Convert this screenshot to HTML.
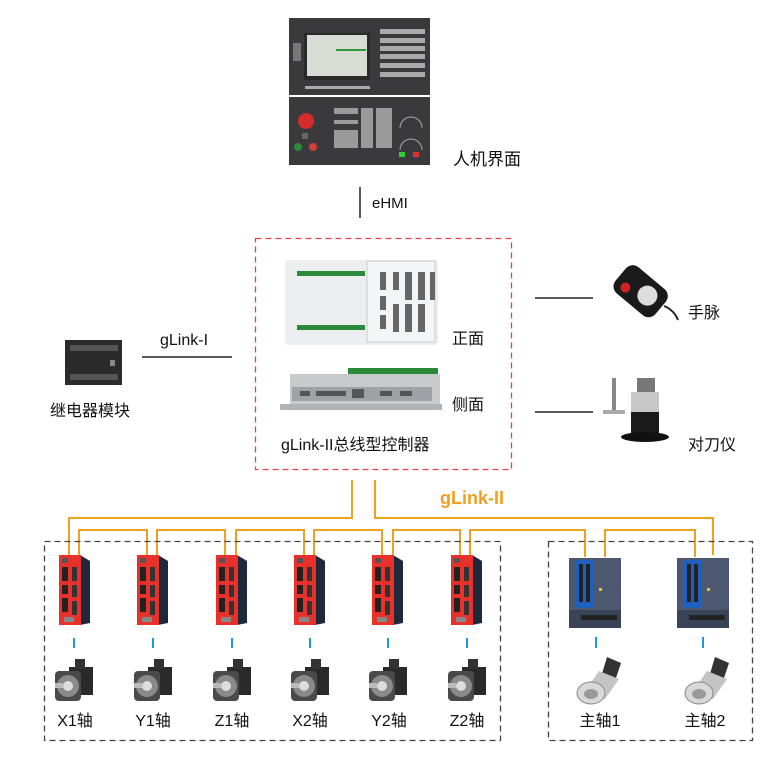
<!DOCTYPE html>
<html><head><meta charset="utf-8"><style>
html,body{margin:0;padding:0;background:#fff;}
svg{display:block;}
text{font-family:"Liberation Sans","Noto Sans CJK SC",sans-serif;fill:#111;}
</style></head><body>
<svg width="760" height="760" viewBox="0 0 760 760" xmlns="http://www.w3.org/2000/svg">
<defs>
<g id="drive">
  <polygon points="21,0 31,6 31,68 21,70" fill="#1e2a3c"/>
  <rect x="0" y="0" width="22" height="70" fill="#e8312a"/>
  <rect x="3" y="3" width="6" height="5" fill="#555"/>
  <rect x="3" y="12" width="6" height="14" fill="#222"/>
  <rect x="3" y="30" width="6" height="9" fill="#222"/>
  <rect x="3" y="43" width="6" height="14" fill="#222"/>
  <rect x="13" y="12" width="5" height="14" fill="#333"/>
  <rect x="13" y="30" width="5" height="12" fill="#333"/>
  <rect x="13" y="46" width="5" height="14" fill="#333"/>
  <rect x="5" y="62" width="10" height="5" fill="#888"/>
</g>
<g id="motor">
  <rect x="14" y="8" width="24" height="28" fill="#2a2a2a"/>
  <rect x="20" y="0" width="10" height="10" fill="#333"/>
  <rect x="0" y="12" width="26" height="30" rx="4" fill="#4a4a4a"/>
  <circle cx="13" cy="27" r="11" fill="#8a8a8a"/>
  <circle cx="13" cy="27" r="5" fill="#ddd"/>
  <rect x="0" y="24" width="8" height="5" fill="#bbb"/>
</g>
<g id="sdrive">
  <rect x="0" y="0" width="52" height="70" fill="#4b5870"/>
  <rect x="7" y="2" width="18" height="48" fill="#1f5fc0"/>
  <rect x="10" y="6" width="4" height="38" fill="#222"/>
  <rect x="17" y="6" width="4" height="38" fill="#222"/>
  <rect x="0" y="52" width="52" height="18" fill="#3a4458"/>
  <rect x="12" y="57" width="36" height="5" fill="#222"/>
  <rect x="30" y="30" width="3" height="3" fill="#e8c020"/>
</g>
<g id="spindle">
  <polygon points="32,0 46,6 40,24 26,20" fill="#333"/>
  <polygon points="24,14 44,22 30,42 10,34" fill="#c4c4c4"/>
  <ellipse cx="16" cy="36" rx="14" ry="11" fill="#d8d8d8" stroke="#888"/>
  <ellipse cx="16" cy="37" rx="7" ry="5" fill="#999"/>
</g>
</defs>

<!-- HMI panel -->
<rect x="289" y="18" width="141" height="77" fill="#3a3a3c"/>
<rect x="289" y="97" width="141" height="68" fill="#3a3a3c"/>
<rect x="304" y="33" width="66" height="47" fill="#2a2a2a"/>
<rect x="307" y="35" width="60" height="41" fill="#d8dcd5"/>
<rect x="336" y="49" width="30" height="2" fill="#2a9a3a"/>
<rect x="293" y="43" width="8" height="18" fill="#777"/>
<g fill="#aaa">
<rect x="380" y="29" width="45" height="5"/><rect x="380" y="38" width="45" height="5"/><rect x="380" y="46" width="45" height="5"/><rect x="380" y="54" width="45" height="5"/><rect x="380" y="63" width="45" height="5"/><rect x="380" y="72" width="45" height="5"/>
<rect x="305" y="86" width="65" height="3"/>
</g>
<g fill="#9a9a9a">
<rect x="334" y="108" width="24" height="6"/><rect x="334" y="120" width="24" height="4"/><rect x="334" y="130" width="24" height="18"/>
<rect x="361" y="108" width="12" height="40"/><rect x="376" y="108" width="16" height="40"/>
</g>
<path d="M400,128 a10,10 0 0 1 22,0" fill="none" stroke="#aaa"/>
<path d="M400,150 a10,10 0 0 1 22,0" fill="none" stroke="#aaa"/>
<circle cx="306" cy="121" r="8" fill="#d42b2b"/>
<rect x="302" y="133" width="6" height="6" fill="#666"/>
<circle cx="298" cy="147" r="4" fill="#2a8a3a"/>
<circle cx="313" cy="147" r="4" fill="#d43b3b"/>
<rect x="399" y="152" width="6" height="5" fill="#3c3"/>
<rect x="413" y="152" width="6" height="5" fill="#d33"/>
<text x="453" y="165" font-size="17">人机界面</text>

<line x1="360" y1="187" x2="360" y2="218" stroke="#222" stroke-width="1.5"/>
<text x="372" y="208" font-size="15">eHMI</text>

<!-- controller box -->
<rect x="255.5" y="238.5" width="256" height="231" fill="none" stroke="#e8404a" stroke-width="1.3" stroke-dasharray="6,4"/>
<rect x="285" y="260" width="153" height="85" rx="3" fill="#eceef0"/>
<rect x="297" y="271" width="68" height="5" fill="#2a8a3a"/>
<rect x="297" y="325" width="68" height="5" fill="#2a8a3a"/>
<rect x="367" y="261" width="68" height="81" fill="#f4f5f6" stroke="#ccc"/>
<g fill="#666">
<rect x="380" y="272" width="6" height="18"/><rect x="393" y="272" width="6" height="18"/><rect x="405" y="272" width="7" height="28"/><rect x="418" y="272" width="7" height="28"/><rect x="430" y="272" width="5" height="28"/>
<rect x="380" y="296" width="6" height="14"/><rect x="380" y="315" width="6" height="14"/><rect x="393" y="304" width="6" height="28"/><rect x="405" y="304" width="7" height="28"/><rect x="418" y="304" width="7" height="28"/>
</g>
<text x="452" y="344" font-size="16">正面</text>
<rect x="290" y="374" width="150" height="30" fill="#c8cacc"/>
<rect x="348" y="368" width="90" height="6" fill="#2a8a3a"/>
<rect x="292" y="387" width="140" height="14" fill="#9ea2a6"/>
<g fill="#555"><rect x="300" y="391" width="10" height="5"/><rect x="316" y="391" width="30" height="5"/><rect x="352" y="389" width="12" height="9"/><rect x="380" y="391" width="12" height="5"/><rect x="400" y="391" width="12" height="5"/></g>
<rect x="280" y="404" width="162" height="6" fill="#b0b3b6"/>
<text x="452" y="410" font-size="16">侧面</text>
<text x="281" y="450" font-size="16">gLink-II总线型控制器</text>

<!-- relay -->
<rect x="65" y="340" width="57" height="45" fill="#2b2b2b"/>
<rect x="70" y="345" width="48" height="6" fill="#555"/>
<rect x="70" y="374" width="48" height="6" fill="#555"/>
<rect x="110" y="360" width="5" height="6" fill="#888"/>
<text x="50" y="416" font-size="16">继电器模块</text>
<line x1="142" y1="357" x2="232" y2="357" stroke="#222" stroke-width="1.5"/>
<text x="160" y="345" font-size="16">gLink-I</text>

<!-- right peripherals -->
<line x1="535" y1="298" x2="593" y2="298" stroke="#222" stroke-width="1.5"/>
<g transform="rotate(-50 640 292)">
<rect x="624" y="266" width="34" height="52" rx="9" fill="#1a1a1a"/>
<circle cx="634" cy="278" r="5" fill="#d42222"/>
<circle cx="642" cy="300" r="10" fill="#ddd"/>
</g>
<path d="M664,306 q10,4 14,14" stroke="#222" stroke-width="2" fill="none"/>
<text x="688" y="318" font-size="16">手脉</text>
<line x1="535" y1="412" x2="593" y2="412" stroke="#222" stroke-width="1.5"/>
<rect x="612" y="378" width="4" height="32" fill="#888"/>
<rect x="603" y="410" width="22" height="4" fill="#aaa"/>
<rect x="637" y="378" width="18" height="14" fill="#777"/>
<rect x="631" y="392" width="28" height="20" fill="#c8c8c8"/>
<rect x="631" y="412" width="28" height="22" fill="#1a1a1a"/>
<ellipse cx="645" cy="437" rx="24" ry="5" fill="#111"/>
<text x="688" y="450" font-size="16">对刀仪</text>

<!-- orange bus -->
<g fill="none" stroke="#f0a020" stroke-width="2">
<polyline points="352,480 352,518 69,518 69,555"/>
<polyline points="375,480 375,518 713,518 713,555"/>
<polyline points="79,555 79,530 147,530 147,555"/>
<polyline points="157,555 157,530 225,530 225,555"/>
<polyline points="236,555 236,530 304,530 304,555"/>
<polyline points="314,555 314,530 382,530 382,555"/>
<polyline points="393,555 393,530 460,530 460,555"/>
<polyline points="470,555 470,530 585,530 585,557"/>
<polyline points="605,557 605,530 695,530 695,557"/>
</g>
<text x="440" y="504" font-size="18" font-weight="bold" style="fill:#f0a020">gLink-II</text>

<!-- dashed boxes -->
<rect x="44.5" y="541.5" width="456" height="199" fill="none" stroke="#444" stroke-width="1.3" stroke-dasharray="6,4"/>
<rect x="548.5" y="541.5" width="204" height="199" fill="none" stroke="#444" stroke-width="1.3" stroke-dasharray="6,4"/>

<!-- axis drives -->
<use href="#drive" x="59" y="555"/>
<use href="#drive" x="137" y="555"/>
<use href="#drive" x="216" y="555"/>
<use href="#drive" x="294" y="555"/>
<use href="#drive" x="372" y="555"/>
<use href="#drive" x="451" y="555"/>
<g stroke="#1a9ae0" stroke-width="2">
<line x1="74" y1="638" x2="74" y2="648"/><line x1="153" y1="638" x2="153" y2="648"/><line x1="232" y1="638" x2="232" y2="648"/>
<line x1="310" y1="638" x2="310" y2="648"/><line x1="388" y1="638" x2="388" y2="648"/><line x1="467" y1="638" x2="467" y2="648"/>
<line x1="596" y1="637" x2="596" y2="648"/><line x1="703" y1="637" x2="703" y2="648"/>
</g>
<use href="#motor" x="55" y="659"/>
<use href="#motor" x="134" y="659"/>
<use href="#motor" x="213" y="659"/>
<use href="#motor" x="291" y="659"/>
<use href="#motor" x="369" y="659"/>
<use href="#motor" x="448" y="659"/>
<g font-size="16" text-anchor="middle">
<text x="75" y="726">X1轴</text><text x="153" y="726">Y1轴</text><text x="232" y="726">Z1轴</text>
<text x="310" y="726">X2轴</text><text x="389" y="726">Y2轴</text><text x="467" y="726">Z2轴</text>
<text x="600" y="726">主轴1</text><text x="705" y="726">主轴2</text>
</g>
<use href="#sdrive" x="569" y="558"/>
<use href="#sdrive" x="677" y="558"/>
<use href="#spindle" x="575" y="657"/>
<use href="#spindle" x="683" y="657"/>
</svg>
</body></html>
